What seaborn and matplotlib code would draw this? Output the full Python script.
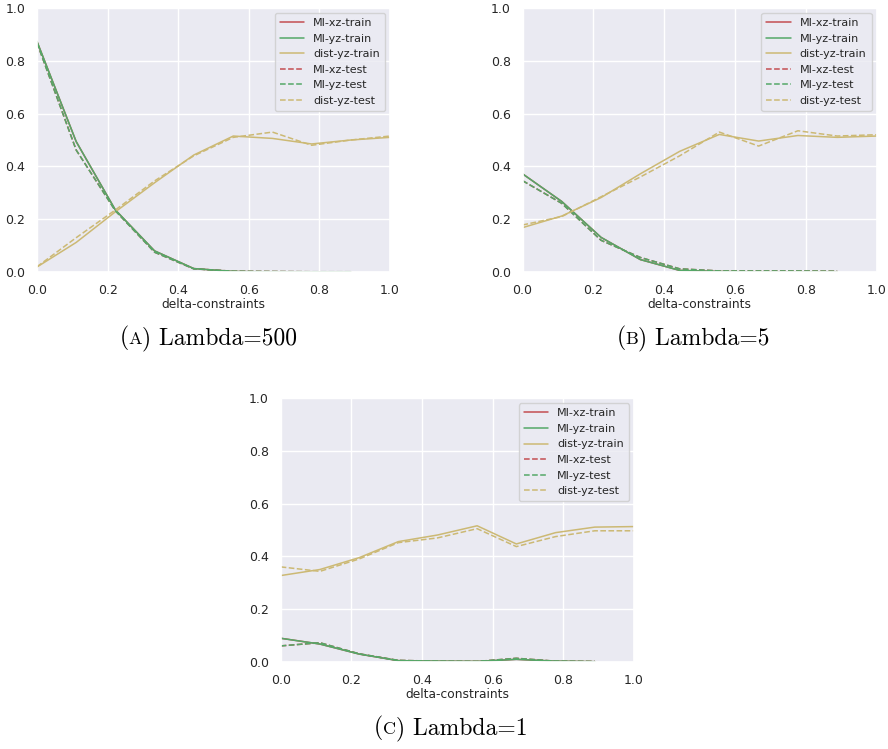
import numpy as np
import pandas as pd
import matplotlib
matplotlib.use("Agg")
import matplotlib.pyplot as plt
import seaborn as sns
from matplotlib.offsetbox import TextArea, HPacker, AnchoredOffsetbox

# delta-constraints sweep (10 settings)
delta = [0.0, 0.111, 0.222, 0.333, 0.444, 0.556, 0.667, 0.778, 0.889, 1.0]

# Lambda = 500
mi_xz_train_500 = [0.873, 0.494, 0.235, 0.080, 0.013, 0.002, 0.0, 0.0, 0.0, np.nan]
mi_yz_train_500 = [0.873, 0.494, 0.235, 0.080, 0.013, 0.002, 0.0, 0.0, 0.0, np.nan]
dist_yz_train_500 = [0.019, 0.112, 0.228, 0.338, 0.443, 0.515, 0.506, 0.485, 0.500, 0.510]
mi_xz_test_500 = [0.868, 0.462, 0.232, 0.075, 0.012, 0.003, 0.002, 0.001, 0.001, np.nan]
mi_yz_test_500 = [0.868, 0.462, 0.232, 0.075, 0.012, 0.003, 0.002, 0.001, 0.001, np.nan]
dist_yz_test_500 = [0.020, 0.130, 0.235, 0.345, 0.440, 0.510, 0.530, 0.480, 0.500, 0.515]

# Lambda = 5
mi_xz_train_5 = [0.372, 0.267, 0.131, 0.047, 0.006, 0.002, 0.0, 0.0, 0.0, np.nan]
mi_yz_train_5 = [0.372, 0.267, 0.131, 0.047, 0.006, 0.002, 0.0, 0.0, 0.0, np.nan]
dist_yz_train_5 = [0.168, 0.212, 0.282, 0.372, 0.457, 0.521, 0.496, 0.517, 0.510, 0.515]
mi_xz_test_5 = [0.346, 0.260, 0.120, 0.055, 0.012, 0.004, 0.004, 0.004, 0.003, np.nan]
mi_yz_test_5 = [0.346, 0.260, 0.120, 0.055, 0.012, 0.004, 0.004, 0.004, 0.003, np.nan]
dist_yz_test_5 = [0.178, 0.210, 0.285, 0.360, 0.440, 0.530, 0.477, 0.535, 0.515, 0.520]

# Lambda = 1
mi_xz_train_1 = [0.089, 0.067, 0.029, 0.004, 0.002, 0.001, 0.009, 0.002, 0.0, np.nan]
mi_yz_train_1 = [0.089, 0.067, 0.029, 0.004, 0.002, 0.001, 0.009, 0.002, 0.0, np.nan]
dist_yz_train_1 = [0.327, 0.350, 0.395, 0.456, 0.481, 0.516, 0.447, 0.490, 0.511, 0.513]
mi_xz_test_1 = [0.060, 0.072, 0.030, 0.005, 0.002, 0.001, 0.013, 0.002, 0.001, np.nan]
mi_yz_test_1 = [0.060, 0.072, 0.030, 0.005, 0.002, 0.001, 0.013, 0.002, 0.001, np.nan]
dist_yz_test_1 = [0.360, 0.343, 0.390, 0.452, 0.470, 0.505, 0.437, 0.475, 0.497, 0.497]

series_names = ["MI-xz-train", "MI-yz-train", "dist-yz-train",
                "MI-xz-test", "MI-yz-test", "dist-yz-test"]

panels = [
    ("A", "Lambda=500", [mi_xz_train_500, mi_yz_train_500, dist_yz_train_500,
                         mi_xz_test_500, mi_yz_test_500, dist_yz_test_500]),
    ("B", "Lambda=5", [mi_xz_train_5, mi_yz_train_5, dist_yz_train_5,
                       mi_xz_test_5, mi_yz_test_5, dist_yz_test_5]),
    ("C", "Lambda=1", [mi_xz_train_1, mi_yz_train_1, dist_yz_train_1,
                       mi_xz_test_1, mi_yz_test_1, dist_yz_test_1]),
]

sns.set_theme(style="darkgrid")
pal = sns.color_palette("deep")
colors = [pal[3], pal[2], pal[8], pal[3], pal[2], pal[8]]
styles = ["-", "-", "-", "--", "--", "--"]
zorders = [1.8, 2.2, 2.2, 1.8, 2.2, 2.2]

W, H = 888, 749
fig = plt.figure(figsize=(W / 100, H / 100), dpi=100)

# axes boxes in pixels: left, top, right, bottom
boxes = [(37, 8, 390, 272), (522.5, 8, 876.5, 272), (280.7, 398.3, 634, 661.7)]
caption_pos = [(208.5, 338), (693, 338), (451, 728)]

for (tag, lam, vals), (l, t, r, b), (cx, cy) in zip(panels, boxes, caption_pos):
    ax = fig.add_axes([l / W, 1 - b / H, (r - l) / W, (b - t) / H])
    for name, v, c, ls, z in zip(series_names, vals, colors, styles, zorders):
        df = pd.DataFrame({"delta-constraints": delta, "value": v})
        sns.lineplot(data=df, x="delta-constraints", y="value", ax=ax,
                     color=c, linestyle=ls, linewidth=1.1, label=name, zorder=z)
    ax.set_xlim(0, 1)
    ax.set_ylim(0, 1)
    ax.set_ylabel("")
    ax.set_xlabel("delta-constraints", fontsize=8.8, labelpad=1)
    ax.tick_params(labelsize=9, pad=2.5)
    ax.legend(loc="upper right", fontsize=8.0, handlelength=2.2,
              labelspacing=0.5, borderpad=0.45, handletextpad=0.8,
              borderaxespad=0.45)

    cap_props = dict(family="cmr10", size=17, color="black")
    small_props = dict(family="cmr10", size=13, color="black")
    parts = [TextArea("(", textprops=cap_props),
             TextArea(tag, textprops=small_props),
             TextArea(") " + lam, textprops=cap_props)]
    pack = HPacker(children=parts, align="baseline", pad=0, sep=0)
    box = AnchoredOffsetbox(loc="center", child=pack, frameon=False, pad=0,
                            bbox_to_anchor=(cx / W, 1 - cy / H),
                            bbox_transform=fig.transFigure, borderpad=0)
    fig.add_artist(box)

fig.savefig("out.png", dpi=100)
